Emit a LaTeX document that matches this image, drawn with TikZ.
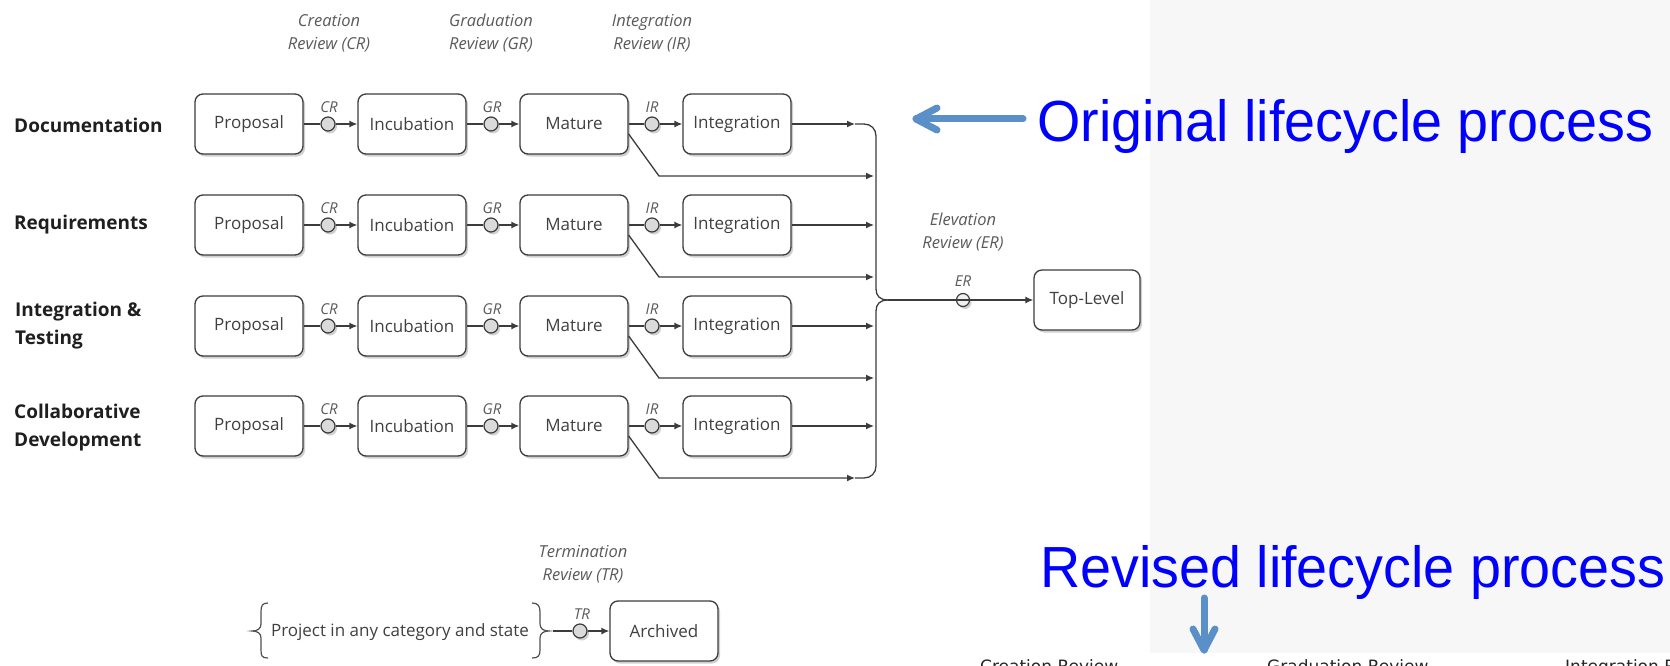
\documentclass[tikz,border=0pt]{standalone}
\usepackage{fontspec}
\setmainfont{Open Sans}
\newfontfamily\helvfont{Liberation Sans}
\newfontfamily\dvfont{DejaVu Sans}
\usetikzlibrary{arrows.meta,shadows,calc}
\definecolor{ink}{HTML}{3C3C3C}
\definecolor{txtgray}{HTML}{404040}
\definecolor{ttlgray}{HTML}{5A5A5A}
\definecolor{bgright}{HTML}{F7F7F7}
\definecolor{annblue}{HTML}{5B8FC8}
\definecolor{revfill}{HTML}{DADADA}
\definecolor{pureblue}{HTML}{0000FF}
\begin{document}
\begin{tikzpicture}[x=1pt,y=-1pt,
  shad/.style={drop shadow={shadow xshift=2pt,shadow yshift=-2.5pt,opacity=0.3,fill=black!60}},
  box/.style={shad,draw=ink,line width=1.3pt,rounded corners=8pt,fill=white,
    minimum width=108pt,minimum height=60pt,inner sep=0pt,text=txtgray,
    font=\fontsize{17}{20}\selectfont},
  rev/.style={shad,circle,draw=ink,line width=1.2pt,fill=revfill,minimum size=14pt,inner sep=0pt},
  lab/.style={font=\fontsize{15}{18}\selectfont\itshape,text=ttlgray,inner sep=0pt},
  ttl/.style={font=\fontsize{16.5}{23}\selectfont\itshape,text=ttlgray,align=center,inner sep=0pt},
  rowlab/.style={font=\fontsize{19}{28}\selectfont\bfseries,text=black!88,align=left,anchor=west,inner sep=0pt},
  con/.style={draw=ink,line width=1.3pt},
  arr/.style={con,-{Latex[length=8pt,width=7pt]}},
  bluearr/.style={draw=annblue,line width=7pt,line cap=round,line join=round},
  bluetxt/.style={text=pureblue,inner sep=0pt,anchor=base west,font=\helvfont\fontsize{58}{60}\selectfont},
  cuttxt/.style={inner sep=0pt,anchor=base west,font=\dvfont\fontsize{17}{20}\selectfont,text=black!85},
  bracestyle/.style={draw=ink!90,line width=1.2pt},
]
\useasboundingbox (0,0) rectangle (1670,666);
\fill[white] (0,0) rectangle (1670,666);
\fill[bgright] (1150,0) rectangle (1670,653);

% column titles
\node[ttl] (tcr) at (329,33) {Creation\\Review (CR)};
\node[ttl] (tgr) at (491,33) {Graduation\\Review (GR)};
\node[ttl] (tir) at (652,33) {Integration\\Review (IR)};

% row labels
\node[rowlab] (l1) at (14,125) {Documentation};
\node[rowlab] (l2) at (14,225) {Requirements};
\node[rowlab] (l3) at (15,326) {Integration \&\\Testing};
\node[rowlab] (l4) at (14,428) {Collaborative\\Development};

% rows
\foreach \r/\y in {1/124,2/225,3/326,4/426}{
  \node[box] (p\r) at (249,\y) {Proposal};
  \node[box] (i\r) at (412,\y) {Incubation};
  \node[box] (m\r) at (574,\y) {Mature};
  \node[box] (g\r) at (737,\y) {Integration};
  \node[rev] (cr\r) at (328,\y) {};
  \node[rev] (gr\r) at (491,\y) {};
  \node[rev] (ir\r) at (652,\y) {};
  \node[lab] (crl\r) at (329,\y-17) {CR};
  \node[lab] (grl\r) at (492,\y-17) {GR};
  \node[lab] (irl\r) at (652,\y-17) {IR};
  \draw[con] (p\r) -- (cr\r);
  \draw[arr] (cr\r) -- (i\r);
  \draw[con] (i\r) -- (gr\r);
  \draw[arr] (gr\r) -- (m\r);
  \draw[con] (m\r) -- (ir\r);
  \draw[arr] (ir\r) -- (g\r);
  \coordinate (bs\r) at ($(m\r.east)+(0,10)$);
  \coordinate (bk\r) at (659,\y+52);
}

% ends of outgoing connectors
\coordinate (e1) at (855,124);
\coordinate (e2) at (874,225);
\coordinate (e3) at (874,326);
\coordinate (e4) at (874,426);
\coordinate (f1) at (874,176);
\coordinate (f2) at (874,277);
\coordinate (f3) at (874,378);
\coordinate (f4) at (855,478);
\foreach \r in {1,2,3,4}{
  \draw[arr] (g\r) -- (e\r);
  \draw[arr] (bs\r) -- (bk\r) -- (f\r);
}

% big brace
\coordinate (tip) at (888,300);
\draw[con] (e1) -- (864,124) .. controls (871,124) and (876,129) .. (876,136)
  -- (876,289) .. controls (876,296) and (880,300) .. (tip);
\draw[con] (tip) .. controls (880,300) and (876,304) .. (876,311)
  -- (876,466) .. controls (876,473) and (871,478) .. (864,478) -- (f4);

% elevation
\node[ttl] (ter) at (963,232) {Elevation\\Review (ER)};
\node[box,minimum width=106pt] (top) at (1087,300) {Top-Level};
\node[rev,fill=revfill!40,minimum size=13pt] (er) at (963,300) {};
\node[lab] (erl) at (963,281) {ER};
\draw[con] (tip) -- (er.center);
\draw[arr] (er.center) -- (top);

% termination
\node[ttl] (ttr) at (583,564) {Termination\\Review (TR)};
\node[inner sep=0pt,text=txtgray,font=\fontsize{17}{20}\selectfont] (proj) at (400,632) {Project in any category and state};
\draw[bracestyle] (268,603) .. controls (262,603) and (261,606) .. (261,612) -- (261,624)
  .. controls (261,629) and (257,631) .. (252,631)
  .. controls (257,631) and (261,633) .. (261,638) -- (261,650)
  .. controls (261,656) and (262,658) .. (268,658);
\draw[bracestyle] (532,603) .. controls (538,603) and (540,606) .. (540,612) -- (540,624)
  .. controls (540,629) and (544,631) .. (549,631)
  .. controls (544,631) and (540,633) .. (540,638) -- (540,650)
  .. controls (540,656) and (538,658) .. (532,658);
\coordinate (ptip) at (553,631);
\node[box] (arch) at (664,631) {Archived};
\node[rev] (tr) at (580,631) {};
\node[lab] (trl) at (582,614) {TR};
\draw[con] (ptip) -- (tr);
\draw[arr] (tr) -- (arch);

% blue annotations
\node[bluetxt] (orig) at (1037,142) {\scalebox{0.96}[1]{Original lifecycle process}};
\coordinate (oa) at (1023,119);
\coordinate (ob) at (916,119);
\draw[bluearr] (oa) -- (ob);
\draw[bluearr] ($(ob)+(21,-11)$) -- (ob) -- ($(ob)+(21,11)$);

\node[bluetxt] (revd) at (1040,587) {\scalebox{0.96}[1]{Revised lifecycle process}};
\coordinate (da) at (1204,598);
\coordinate (db) at (1204,650);
\draw[bluearr] (da) -- (db);
\draw[bluearr] ($(db)+(-11,-21)$) -- (db) -- ($(db)+(11,-21)$);

% cut-off text at the bottom
\node[cuttxt] (c1) at (980,672) {Creation Review};
\node[cuttxt] (c2) at (1267,672) {Graduation Review};
\node[cuttxt] (c3) at (1565,672) {Integration Review};
\end{tikzpicture}
\end{document}
